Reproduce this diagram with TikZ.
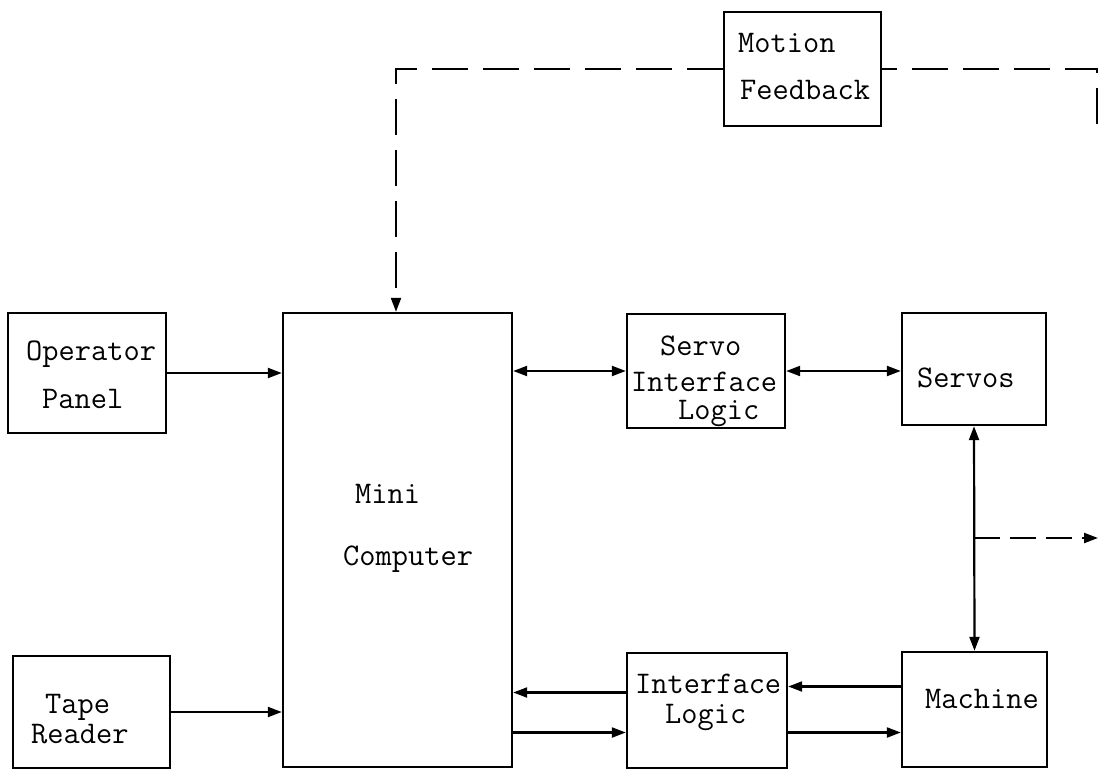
\documentclass[tikz,border=0pt]{standalone}
\usepackage{fontspec}
\usetikzlibrary{arrows.meta,calc}
\begin{document}
\begin{tikzpicture}[x=1pt,y=-1pt,
  blk/.style={draw,line width=2.4pt,inner sep=0pt},
  lbl/.style={inner sep=0pt,anchor=base west,font=\ttfamily\fontsize{31.5}{31.5}\selectfont},
  conn/.style={line width=2.2pt,-{Triangle[length=14pt,width=10pt]}},
  bconn/.style={line width=2.2pt,{Triangle[length=14pt,width=10pt]}-{Triangle[length=14pt,width=10pt]}},
  fb/.style={line width=2.2pt,dash pattern=on 36pt off 15pt},
  tip/.style={-{Triangle[length=14pt,width=10pt]}}]
\useasboundingbox (0,0) rectangle (1099,770);
% boxes
\node[blk,minimum width=157pt,minimum height=114pt] (mf) at (802.5,69) {};
\node[blk,minimum width=158pt,minimum height=120pt] (op) at (87,373) {};
\node[blk,minimum width=157pt,minimum height=112pt] (tape) at (91.5,712) {};
\node[blk,minimum width=229pt,minimum height=454pt] (mini) at (397.5,540) {};
\node[blk,minimum width=158pt,minimum height=114pt] (sil) at (706,371) {};
\node[blk,minimum width=144pt,minimum height=112pt] (servos) at (974,369) {};
\node[blk,minimum width=160pt,minimum height=115pt] (il) at (707,710.5) {};
\node[blk,minimum width=145pt,minimum height=115pt] (mach) at (974.5,709.5) {};
% labels
\node[lbl] (t1) at (738,53) {Motion};
\node[lbl] (t2) at (740,100) {Feedback};
\node[lbl] (t3) at (26,360) {Operator};
\node[lbl] (t4) at (42,408) {Panel};
\node[lbl] (t5) at (45,713) {Tape};
\node[lbl] (t6) at (31,743) {Reader};
\node[lbl] (t7) at (355,503) {Mini};
\node[lbl] (t8) at (343,565) {Computer};
\node[lbl] (t9) at (660,355) {Servo};
\node[lbl] (t10) at (631,391) {Interface};
\node[lbl] (t11) at (678,419) {Logic};
\node[lbl] (t12) at (635,693) {Interface};
\node[lbl] (t13) at (665,723) {Logic};
\node[lbl] (t14) at (917,387) {Servos};
\node[lbl] (t15) at (925,708) {Machine};
% connectors
\draw[conn] (op.east) -- (op.east -| mini.west);
\draw[conn] (tape.east) -- (tape.east -| mini.west);
\draw[bconn] (sil.west -| mini.east) -- (sil.west);
\draw[bconn] (sil.east) -- (sil.east -| servos.west);
\draw[bconn] (servos.south) -- (mach.north);
\coordinate (m1) at ([yshift=23pt]mach.west);
\coordinate (m2) at ([yshift=-22pt]il.east);
\coordinate (i1) at ([yshift=18pt]il.west);
\coordinate (i2) at ([yshift=-22pt]mini.east |- il.west);
\draw[conn] (m1) -- (m1 -| il.east);
\draw[conn] (m2) -- (m2 -| mach.west);
\draw[conn] (i1) -- (i1 -| mini.east);
\draw[conn] (i2) -- (i2 -| il.west);
% dashed feedback
\coordinate (tap) at (974,538);
\coordinate (outR) at (1098,538);
\draw[line width=2.2pt,dash pattern=on 26pt off 10pt,tip] (tap) -- (outR);
\coordinate (rc) at (1097,124);
\coordinate (lc) at (396,69);
\draw[fb] (rc) -- (rc |- mf.east) -- (mf.east);
\draw[fb,tip] (mf.west) -- (lc) -- (lc |- mini.north);
\end{tikzpicture}
\end{document}
